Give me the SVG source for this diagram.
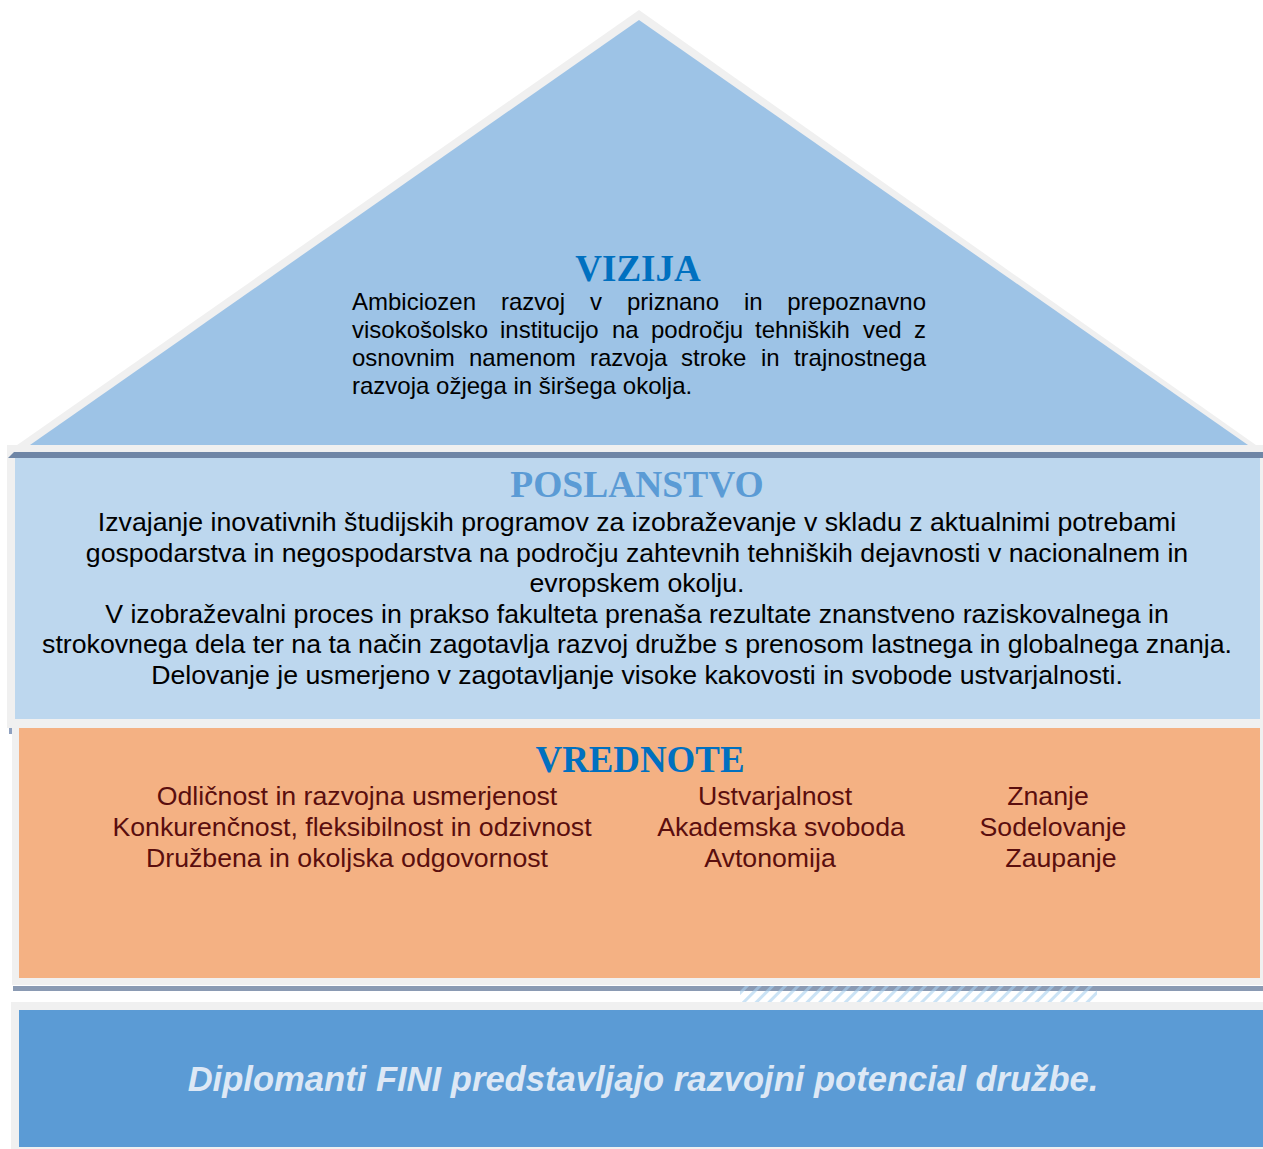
<svg xmlns="http://www.w3.org/2000/svg" width="1263" height="1149" viewBox="0 0 1263 1149">
<style>
.frame{fill:#f0f0f0}
.title{font-family:"Liberation Serif","Times New Roman",serif;font-weight:bold;text-anchor:middle}
.body{font-family:"Liberation Sans",Arial,sans-serif;font-size:24px;fill:#000}
.pbody{font-family:"Liberation Sans",Arial,sans-serif;font-size:26.7px;fill:#000;text-anchor:middle}
.val{font-family:"Liberation Sans",Arial,sans-serif;font-size:26.7px;fill:#5a0e0e;text-anchor:middle}
</style>
<defs>
<pattern id="hatch" width="9" height="9" patternUnits="userSpaceOnUse" patternTransform="rotate(45)">
<rect x="0" y="0" width="3" height="9" fill="#a9d0ef"/>
</pattern>
</defs>
<rect width="1263" height="1149" fill="#ffffff"/>

<g id="vizija">
<polygon class="frame" points="639,10 10,450 1263,450"/>
<polygon points="639,20 30,445 1248,445" fill="#9dc3e6"/>
<text class="title" x="638" y="281" font-size="37" fill="#0070c0">VIZIJA</text>
<text class="body" y="310"><tspan x="352">Ambiciozen</tspan><tspan x="501">razvoj</tspan><tspan x="590">v</tspan><tspan x="627">priznano</tspan><tspan x="744">in</tspan><tspan x="926" text-anchor="end">prepoznavno</tspan></text>
<text class="body" y="338"><tspan x="352">visokošolsko</tspan><tspan x="500">institucijo</tspan><tspan x="612">na</tspan><tspan x="651">področju</tspan><tspan x="755">tehniških</tspan><tspan x="863">ved</tspan><tspan x="926" text-anchor="end">z</tspan></text>
<text class="body" y="366"><tspan x="352">osnovnim</tspan><tspan x="469">namenom</tspan><tspan x="590">razvoja</tspan><tspan x="681">stroke</tspan><tspan x="761">in</tspan><tspan x="926" text-anchor="end">trajnostnega</tspan></text>
<text class="body" x="352" y="394">razvoja ožjega in širšega okolja.</text>
</g>

<g id="poslanstvo">
<rect class="frame" x="7" y="445" width="1256" height="283"/>
<polygon points="14,452 1263,452 1263,458 8,458" fill="#6f86a6"/>
<rect x="15" y="458" width="1245" height="261" fill="#bdd7ee"/>
<text class="title" x="637" y="497" font-size="37.5" fill="#5b9bd5">POSLANSTVO</text>
<text class="pbody" x="637" y="531">Izvajanje inovativnih študijskih programov za izobraževanje v skladu z aktualnimi potrebami</text>
<text class="pbody" x="637" y="562">gospodarstva in negospodarstva na področju zahtevnih tehniških dejavnosti v nacionalnem in</text>
<text class="pbody" x="637" y="592">evropskem okolju.</text>
<text class="pbody" x="637" y="623">V izobraževalni proces in prakso fakulteta prenaša rezultate znanstveno raziskovalnega in</text>
<text class="pbody" x="637" y="653">strokovnega dela ter na ta način zagotavlja razvoj družbe s prenosom lastnega in globalnega znanja.</text>
<text class="pbody" x="637" y="684">Delovanje je usmerjeno v zagotavljanje visoke kakovosti in svobode ustvarjalnosti.</text>
</g>

<g id="vrednote">
<rect class="frame" x="12" y="726" width="1251" height="259"/>
<rect x="9" y="728" width="3" height="6" fill="#8ea0bf"/>
<rect x="19" y="728" width="1241" height="250" fill="#f4b183"/>
<text class="title" x="640" y="772" font-size="37" fill="#0070c0" textLength="209" lengthAdjust="spacingAndGlyphs">VREDNOTE</text>
<text class="val" x="357" y="805">Odličnost in razvojna usmerjenost</text>
<text class="val" x="352" y="836">Konkurenčnost, fleksibilnost in odzivnost</text>
<text class="val" x="347" y="867">Družbena in okoljska odgovornost</text>
<text class="val" x="775" y="805">Ustvarjalnost</text>
<text class="val" x="781" y="836">Akademska svoboda</text>
<text class="val" x="770" y="867">Avtonomija</text>
<text class="val" x="1048" y="805">Znanje</text>
<text class="val" x="1053" y="836">Sodelovanje</text>
<text class="val" x="1061" y="867">Zaupanje</text>
</g>

<g id="separator">
<rect x="13" y="986" width="1250" height="5" fill="#8a9ab3"/>
<rect x="740" y="986" width="357" height="16" fill="url(#hatch)" opacity="0.6"/>
</g>

<g id="footer">
<rect class="frame" x="11" y="1002" width="1252" height="147"/>
<rect x="19" y="1010" width="1244" height="137" fill="#5b9bd5"/>
<text x="643" y="1091" text-anchor="middle" font-family="'Liberation Sans',Arial,sans-serif" font-size="34.6" font-weight="bold" font-style="italic" fill="#dde8f5">Diplomanti FINI predstavljajo razvojni potencial družbe.</text>
</g>

<g id="connectors"/>
</svg>
